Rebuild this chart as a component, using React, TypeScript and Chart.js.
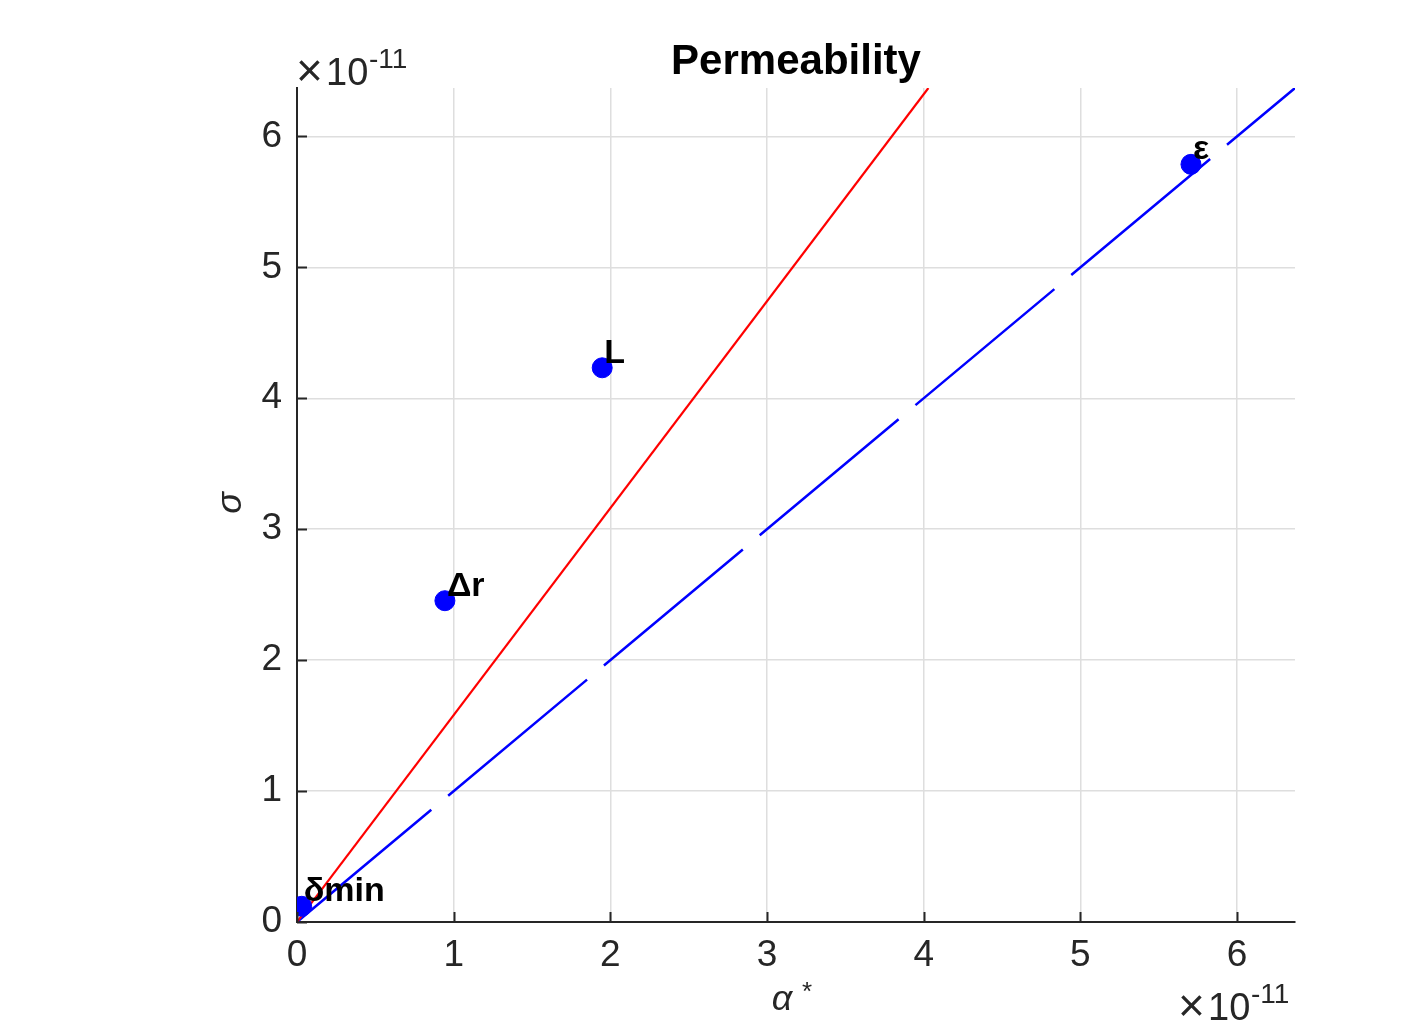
import React, { useEffect, useRef } from 'react';
import { Chart, registerables } from 'chart.js';

Chart.register(...registerables);

// values are in units of 1e-11
const EXPONENT = '-11';
const pointLabels = ['δmin', 'Δr', 'L', 'ε'];
const pointX = [0.03, 0.944, 1.948, 5.706];
const pointY = [0.12, 2.454, 4.233, 5.787];
const redLineX = [0, 4.03];
const redLineY = [0, 6.37];
const blueLineX = [0, 6.37];
const blueLineY = [0, 6.37];
const axisMin = 0;
const axisMax = 6.37;
const tickValues = [0, 1, 2, 3, 4, 5, 6];
const titleText = 'Permeability';

const FONT = '"Liberation Sans", Arial, Helvetica, sans-serif';
const AXIS_COLOR = '#262626';

const overlayPlugin = {
  id: 'overlay',
  afterDraw(chart: any) {
    const ctx = chart.ctx as CanvasRenderingContext2D;
    const xs = chart.scales.x;
    const ys = chart.scales.y;
    const area = chart.chartArea;
    ctx.save();
    // inward tick marks
    ctx.strokeStyle = AXIS_COLOR;
    ctx.lineWidth = 2;
    ctx.beginPath();
    tickValues.forEach((v) => {
      const px = Math.round(xs.getPixelForValue(v)) + 0.5;
      ctx.moveTo(px, area.bottom);
      ctx.lineTo(px, area.bottom - 10);
      const py = Math.round(ys.getPixelForValue(v)) + 0.5;
      ctx.moveTo(area.left, py);
      ctx.lineTo(area.left + 10, py);
    });
    ctx.stroke();

    // point labels
    ctx.fillStyle = '#000';
    ctx.font = `bold 34px ${FONT}`;
    ctx.textAlign = 'left';
    ctx.textBaseline = 'alphabetic';
    pointLabels.forEach((lab, i) => {
      const px = xs.getPixelForValue(pointX[i]);
      const py = ys.getPixelForValue(pointY[i]);
      ctx.fillText(lab, px + 2, py - 5);
    });

    // title
    ctx.font = `bold 42px ${FONT}`;
    ctx.textAlign = 'center';
    ctx.fillStyle = '#000';
    ctx.fillText(titleText, (area.left + area.right) / 2, 74);

    // exponent labels
    const drawExp = (x: number, y: number) => {
      ctx.fillStyle = AXIS_COLOR;
      ctx.textAlign = 'left';
      ctx.font = `46px ${FONT}`;
      ctx.fillText('×', x - 3, y + 1);
      ctx.font = `38px ${FONT}`;
      ctx.fillText('10', x + 27, y);
      ctx.font = `28px ${FONT}`;
      ctx.fillText(EXPONENT, x + 70, y - 17);
    };
    drawExp(area.left + 2, 85);
    drawExp(area.right - 114, 1020);

    // axis labels
    ctx.fillStyle = AXIS_COLOR;
    ctx.font = `italic 36px ${FONT}`;
    ctx.textAlign = 'center';
    ctx.fillText('α', 782, 1010);
    ctx.font = `26px ${FONT}`;
    ctx.fillText('*', 807, 1000);

    ctx.save();
    ctx.translate(241, 503);
    ctx.rotate(-Math.PI / 2);
    ctx.font = `italic 36px ${FONT}`;
    ctx.textAlign = 'center';
    ctx.fillText('σ', 0, 0);
    ctx.restore();

    ctx.restore();
  },
};

export default function App() {
  const ref = useRef<HTMLCanvasElement>(null);
  useEffect(() => {
    if (!ref.current) return;
    const chart = new Chart(ref.current, {
      type: 'scatter',
      data: {
        datasets: [
          {
            label: 'points',
            data: pointX.map((x, i) => ({ x, y: pointY[i] })),
            backgroundColor: '#0000ff',
            borderColor: '#0000ff',
            pointRadius: 10,
            pointHoverRadius: 10,
            showLine: false,
          },
          {
            label: 'red',
            data: redLineX.map((x, i) => ({ x, y: redLineY[i] })),
            borderColor: '#ff0000',
            borderWidth: 2.2,
            pointRadius: 0,
            showLine: true,
          },
          {
            label: 'blue',
            data: blueLineX.map((x, i) => ({ x, y: blueLineY[i] })),
            borderColor: '#0000ff',
            borderWidth: 2.5,
            borderDash: [181, 22],
            borderDashOffset: 6,
            pointRadius: 0,
            showLine: true,
          },
        ],
      },
      options: {
        responsive: false,
        animation: false,
        devicePixelRatio: 1,
        layout: { padding: { left: 0, top: 88, right: 110, bottom: 0 } },
        plugins: {
          legend: { display: false },
          title: { display: false },
          tooltip: { enabled: false },
        },
        scales: {
          x: {
            type: 'linear',
            min: axisMin,
            max: axisMax,
            afterFit: (s: any) => {
              s.height = 112;
            },
            afterBuildTicks: (s: any) => {
              s.ticks = tickValues.map((v) => ({ value: v }));
            },
            ticks: {
              stepSize: 1,
              includeBounds: false,
              padding: 12,
              color: AXIS_COLOR,
              font: { family: FONT, size: 37 },
              maxRotation: 0,
              callback: (v: any) => String(v),
            },
            grid: { color: '#dedede', lineWidth: 1.5, drawTicks: false },
            border: { display: true, color: AXIS_COLOR, width: 2 },
          },
          y: {
            type: 'linear',
            min: axisMin,
            max: axisMax,
            afterFit: (s: any) => {
              s.width = 297;
            },
            afterBuildTicks: (s: any) => {
              s.ticks = tickValues.map((v) => ({ value: v }));
            },
            ticks: {
              stepSize: 1,
              includeBounds: false,
              padding: 15,
              color: AXIS_COLOR,
              font: { family: FONT, size: 37 },
              callback: (v: any) => String(v),
            },
            grid: { color: '#dedede', lineWidth: 1.5, drawTicks: false },
            border: { display: true, color: AXIS_COLOR, width: 2 },
          },
        },
      },
      plugins: [overlayPlugin],
    });
    return () => chart.destroy();
  }, []);
  return (
    <div style={{ position: 'absolute', left: 0, top: 0, width: 1405, height: 1034, background: '#fff' }}>
      <canvas ref={ref} width={1405} height={1034} style={{ width: 1405, height: 1034, display: 'block' }} />
    </div>
  );
}
